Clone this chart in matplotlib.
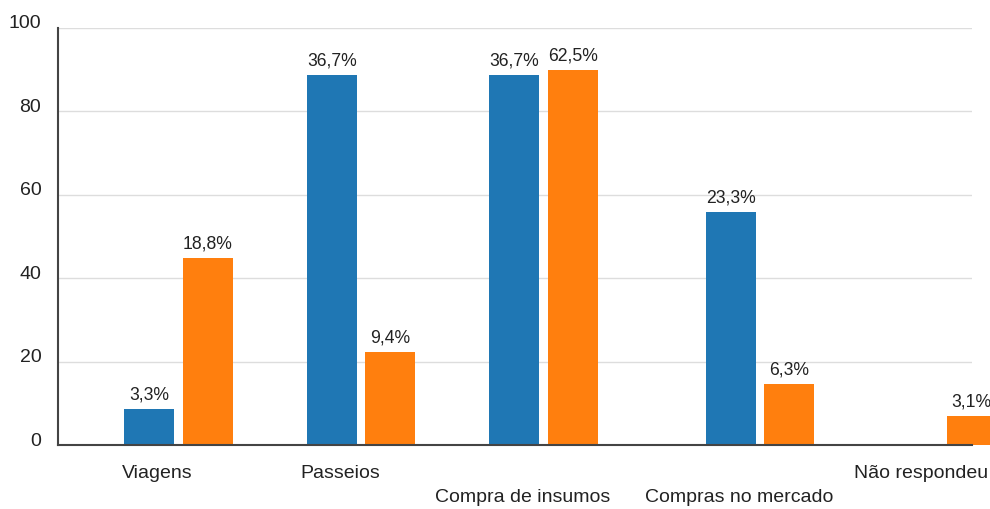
import matplotlib.pyplot as plt
from matplotlib import transforms

plt.rcParams['font.family'] = ['Liberation Sans', 'DejaVu Sans']

# --- data ---
categories = ['Viagens', 'Passeios', 'Compra de insumos', 'Compras no mercado', 'Não respondeu']
blue_values = [8.7, 88.7, 88.7, 55.9, 0]
orange_values = [44.8, 22.2, 89.9, 14.7, 7.0]
blue_labels = ['3,3%', '36,7%', '36,7%', '23,3%', '']
orange_labels = ['18,8%', '9,4%', '62,5%', '6,3%', '3,1%']

# layout: group positions (uneven spacing in the original) and label row
group_x = [0, 1, 2, 3.185, 4.186]
label_row = [0, 0, 1, 1, 0]

blue = '#1f77b4'
orange = '#ff7f0e'
width = 0.274
offset = 0.16

fig = plt.figure(figsize=(9.9, 5.09), dpi=100)
ax = fig.add_axes([58 / 990, 1 - 445 / 509, (972 - 58) / 990, (445 - 28) / 509])

bx = [x - offset for x in group_x]
ox = [x + offset for x in group_x]
b1 = ax.bar(bx, blue_values, width=width, color=blue, clip_on=False, zorder=3)
b2 = ax.bar(ox, orange_values, width=width, color=orange, clip_on=False, zorder=3)

# value labels above bars
for bars, labels in [(b1, blue_labels), (b2, orange_labels)]:
    for rect, lab in zip(bars, labels):
        if not lab:
            continue
        ax.annotate(lab, (rect.get_x() + rect.get_width() / 2, rect.get_height()),
                    xytext=(0, 4), textcoords='offset points', ha='center', va='bottom',
                    fontsize=12.7, color='#222222', annotation_clip=False)

ax.set_xlim(-0.660, 4.348)
ax.set_ylim(0, 100)
ax.set_yticks([0, 20, 40, 60, 80, 100])
ax.set_xticks([])
ax.tick_params(axis='y', length=0, labelsize=14, pad=12, labelcolor='#222222')
shift = transforms.ScaledTranslation(0, 6 / 100, fig.dpi_scale_trans)
for lab in ax.get_yticklabels():
    lab.set_transform(lab.get_transform() + shift)

ax.grid(axis='y', color='#dddddd', linewidth=1, zorder=0)
for s in ['top', 'right']:
    ax.spines[s].set_visible(False)
ax.spines['left'].set_color('#444444')
ax.spines['left'].set_linewidth(1.5)
ax.spines['bottom'].set_color('#444444')
ax.spines['bottom'].set_linewidth(1.5)
ax.spines['bottom'].set_zorder(4)

# staggered category labels
for x, name, row in zip(group_x, categories, label_row):
    dy = -28 if row == 0 else -53
    tr = transforms.offset_copy(ax.get_xaxis_transform(), fig=fig, y=dy, units='dots')
    ax.text(x - 0.115, 0, name, transform=tr, ha='center', va='center',
            fontsize=14, color='#222222', clip_on=False)

fig.savefig('out.png', dpi=100)
